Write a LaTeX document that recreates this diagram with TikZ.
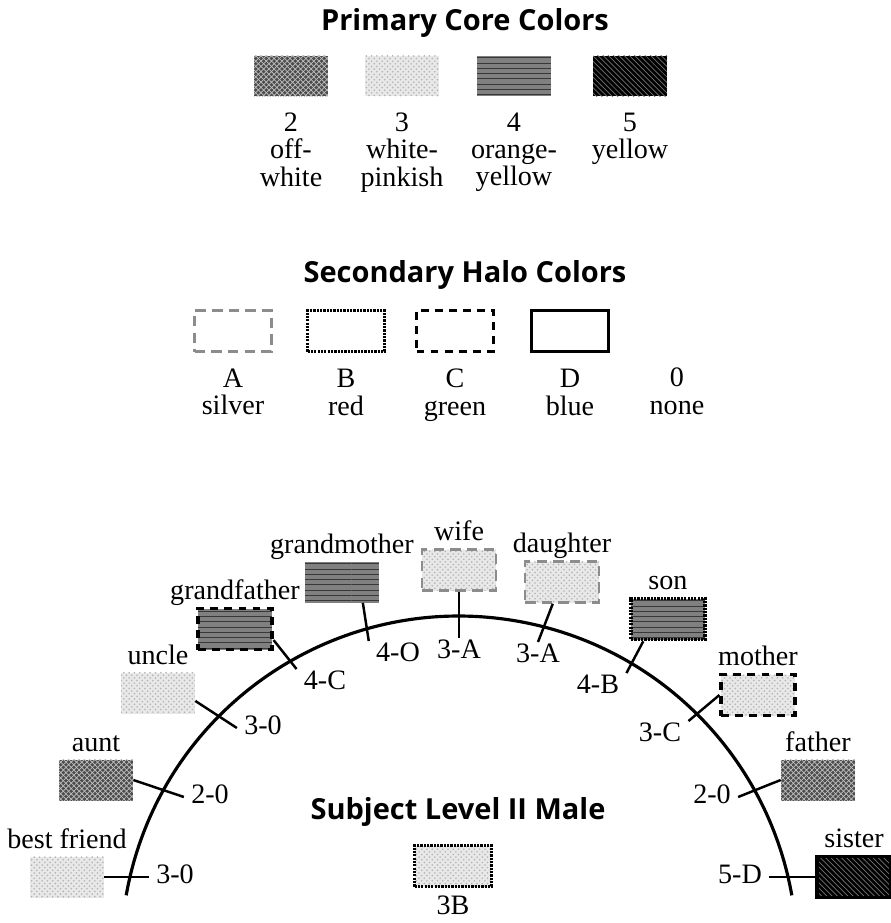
\documentclass[tikz,border=0pt]{standalone}
\usepackage{fontspec}
\setmainfont{Liberation Serif}
\newfontfamily\headfont{Open Sans}
\usepackage{tikz}
\usetikzlibrary{positioning,patterns}

\tikzset{
  txt/.style={font=\fontsize{16}{15.5}\selectfont, inner sep=1pt, text height=10.5pt, text depth=3pt},
  key/.style={font=\fontsize{16}{15.5}\selectfont, inner sep=1pt, align=center},
  code/.style={txt, inner xsep=4pt},
  head/.style={font=\headfont\bfseries\fontsize{16.5}{18}\selectfont, inner sep=0pt},
  swatch/.style={minimum width=1.48cm, minimum height=0.82cm, inner sep=0pt},
  % core textures
  core2/.style={preaction={fill=black!70}, preaction={solid, pattern=crosshatch, pattern color=black!25}},
  core3/.style={preaction={fill=black!9}, preaction={solid, pattern=crosshatch dots, pattern color=black!30}},
  core4/.style={preaction={fill=black!50}, preaction={solid, pattern=horizontal lines, pattern color=black!78}},
  core5/.style={preaction={fill=black}, preaction={solid, pattern=north west lines, pattern color=black!55}},
  % halo borders
  haloA/.style={draw=black!45, line width=1.4pt, dash pattern=on 6pt off 3.5pt},
  haloB/.style={draw=black, line width=2pt, dash pattern=on 1.3pt off 0.6pt},
  haloC/.style={draw=black, line width=1.8pt, dash pattern=on 4.5pt off 3.5pt},
  haloD/.style={draw=black, line width=2pt},
  tick/.style={line width=1.4pt}
}

\begin{document}
\begin{tikzpicture}[x=0.02cm, y=-0.02cm]
  \useasboundingbox (0,0) rectangle (891,923);

  % primary core colors
  \node[head] (core-title) at (465,23) {Primary Core Colors};
  \node[swatch, core2] (c2) at (291,76) {};
  \node[swatch, core3] (c3) at (402,76) {};
  \node[swatch, core4] (c4) at (514,76) {};
  \node[swatch, core5] (c5) at (630,76) {};
  \node[key, below=8pt of c2] (c2-lab) {2\\off-\\white};
  \node[key, below=8pt of c3] (c3-lab) {3\\white-\\pinkish};
  \node[key, below=8pt of c4] (c4-lab) {4\\orange-\\yellow};
  \node[key, below=8pt of c5] (c5-lab) {5\\yellow};

  % secondary halo colors
  \node[head] (halo-title) at (465,275) {Secondary Halo Colors};
  \node[swatch, minimum width=1.54cm, haloA] (hA) at (233,331) {};
  \node[swatch, minimum width=1.54cm, haloB] (hB) at (346,331) {};
  \node[swatch, minimum width=1.54cm, haloC] (hC) at (455,331) {};
  \node[swatch, minimum width=1.54cm, haloD] (hD) at (570,331) {};
  \node[key, below=8pt of hA] (hA-lab) {A\\silver};
  \node[key, below=8pt of hB] (hB-lab) {B\\red};
  \node[key, below=8pt of hC] (hC-lab) {C\\green};
  \node[key, below=8pt of hD] (hD-lab) {D\\blue};
  \node[key, anchor=north] (h0-lab) at (677,366) {0\\none};

  % the arc
  \coordinate (ctr) at (459,954);
  \draw[line width=1.8pt] (ctr) ++(170:6.76cm) arc[start angle=170, end angle=10, radius=6.76cm];

  % family round the arc
  \node[swatch, core3] (friend) at (67,877) {};
  \node[swatch, core2] (aunt) at (96,780) {};
  \node[swatch, core3] (uncle) at (158,693) {};
  \node[swatch, core4, haloC] (gfa) at (235,629) {};
  \node[swatch, core4] (gma) at (342,582) {};
  \node[swatch, core3, haloA] (wife) at (459,570) {};
  \node[swatch, core3, haloA] (dau) at (562,582) {};
  \node[swatch, core4, haloB] (son) at (668,619) {};
  \node[swatch, core3, haloC] (mother) at (758,695) {};
  \node[swatch, core2] (father) at (818,780) {};
  \node[swatch, core5, haloD] (sister) at (854,877) {};

  \node[txt, above=0pt of friend] (friend-name) {best friend};
  \node[txt, above=0pt of aunt] (aunt-name) {aunt};
  \node[txt, above=0pt of uncle] (uncle-name) {uncle};
  \node[txt, above=0pt of gfa] (gfa-name) {grandfather};
  \node[txt, above=0pt of gma] (gma-name) {grandmother};
  \node[txt, above=0pt of wife] (wife-name) {wife};
  \node[txt, above=0pt of dau] (dau-name) {daughter};
  \node[txt, above=0pt of son] (son-name) {son};
  \node[txt, above=0pt of mother] (mother-name) {mother};
  \node[txt, above=0pt of father] (father-name) {father};
  \node[txt, above=0pt of sister] (sister-name) {sister};

  \node[code] (friend-code) at (175,877) {3-0};
  \node[code] (aunt-code) at (210,797) {2-0};
  \node[code] (uncle-code) at (263,728) {3-0};
  \node[code] (gfa-code) at (325,683) {4-C};
  \node[code] (gma-code) at (398,655) {4-O};
  \node[code] (wife-code) at (459,652) {3-A};
  \node[code] (dau-code) at (538,656) {3-A};
  \node[code] (son-code) at (598,687) {4-B};
  \node[code] (mother-code) at (660,735) {3-C};
  \node[code] (father-code) at (712,797) {2-0};
  \node[code] (sister-code) at (740,877) {5-D};

  \draw[tick] (friend.east) -- (friend-code.west);
  \draw[tick] (aunt.east) -- (aunt-code.west);
  \draw[tick] (uncle.-12) -- (uncle-code.west);
  \draw[tick] (gfa.-16) -- (gfa-code.north west);
  \draw[tick] (gma.-45) -- (gma-code.north west);
  \draw[tick] (wife.south) -- (wife-code.north);
  \draw[tick] (dau.-113) -- (dau-code.north);
  \draw[tick] (son.-138) -- (son-code.north east);
  \draw[tick] (mother.west) -- (mother-code.north east);
  \draw[tick] (father.west) -- (father-code.east);
  \draw[tick] (sister.west) -- (sister-code.east);

  % subject
  \node[head] (subj-title) at (458,812) {Subject Level II Male};
  \node[swatch, minimum width=1.54cm, core3, haloB] (subj) at (453,866) {};
  \node[txt, below=3pt of subj] (subj-code) {3B};
\end{tikzpicture}
\end{document}
